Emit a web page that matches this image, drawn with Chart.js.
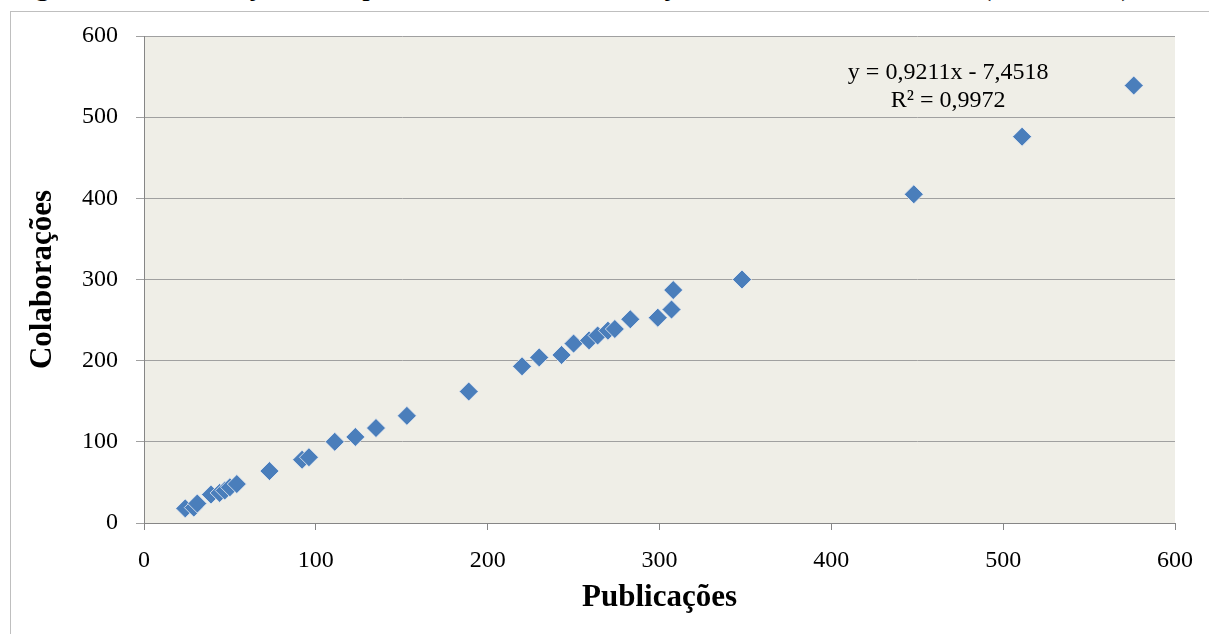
<!DOCTYPE html>
<html>
<head>
<meta charset="utf-8">
<title>Publicações x Colaborações</title>
<script src="https://cdn.jsdelivr.net/npm/chart.js@4.4.1/dist/chart.umd.min.js"></script>
<style>
    html, body { margin: 0; padding: 0; background: #fff; overflow: hidden; }
    #wrap { position: relative; width: 1209px; height: 634px; overflow: hidden; }
    #caption {
        position: absolute; left: 10px; top: -30px;
        font-family: "Liberation Serif", serif; font-size: 30px; line-height: 30px;
        white-space: nowrap; color: #000;
    }
    #frame {
        position: absolute; left: 10px; top: 11px;
        width: 1400px; height: 800px; border: 1px solid #bfbfbf;
    }
    #chart { position: absolute; left: 0; top: 0; }
</style>
</head>
<body>
<div id="wrap">
    <div id="caption">Figura 15 – Correlação entre produtividade e colaboração dos docentes do PPGI (2000-2010)</div>
    <div id="frame"></div>
    <canvas id="chart" width="1209" height="634"></canvas>
</div>
<script>
// Data (x = publicações, y = colaborações)
const publicacoes = [24, 29, 31, 39, 44, 47, 50, 54, 73, 92, 96, 111, 123, 135, 153, 189,
    220, 230, 243, 250, 259, 264, 270, 274, 283, 299, 307, 308, 348, 448, 511, 576];
const colaboracoes = [18, 19, 24, 35, 37, 40, 44, 48, 64, 78, 81, 100, 106, 117, 132, 162,
    193, 204, 207, 221, 225, 231, 237, 239, 251, 253, 263, 287, 300, 405, 476, 539];
const xTicks = [0, 100, 200, 300, 400, 500, 600];
const yTicks = [0, 100, 200, 300, 400, 500, 600];
const trendText = ['y = 0,9211x - 7,4518', 'R² = 0,9972'];

const serif = '"Liberation Serif", "Times New Roman", serif';

// Fill the plot area with the beige background
const plotBackground = {
    id: 'plotBackground',
    beforeDraw(chart) {
        const { ctx, chartArea } = chart;
        ctx.save();
        ctx.fillStyle = '#efeee7';
        ctx.fillRect(chartArea.left, chartArea.top, chartArea.right - chartArea.left, chartArea.bottom - chartArea.top);
        ctx.restore();
    }
};

// Trendline equation label, placed with the scales
const trendLabel = {
    id: 'trendLabel',
    afterDraw(chart) {
        const { ctx } = chart;
        const xs = chart.scales.x, ys = chart.scales.y;
        const cx = xs.getPixelForValue(468);
        ctx.save();
        ctx.fillStyle = '#000';
        ctx.font = '24px ' + serif;
        ctx.textAlign = 'center';
        ctx.textBaseline = 'middle';
        ctx.fillText(trendText[0], cx, ys.getPixelForValue(555));
        ctx.fillText(trendText[1], cx, ys.getPixelForValue(520));
        ctx.restore();
    }
};

const ctx = document.getElementById('chart').getContext('2d');
new Chart(ctx, {
    type: 'scatter',
    data: {
        datasets: [{
            label: 'Colaborações',
            data: publicacoes.map((x, i) => ({ x: x, y: colaboracoes[i] })),
            pointStyle: 'rectRot',
            pointRadius: 9.5,
            backgroundColor: '#4a7ebb',
            borderColor: 'rgba(235, 238, 242, 0.8)',
            borderWidth: 1
        }]
    },
    options: {
        responsive: false,
        animation: false,
        devicePixelRatio: 1,
        layout: { padding: { top: 36, right: 31, left: 0, bottom: 0 } },
        plugins: {
            legend: { display: false },
            tooltip: { enabled: false }
        },
        scales: {
            x: {
                type: 'linear',
                min: xTicks[0],
                max: xTicks[xTicks.length - 1],
                ticks: {
                    stepSize: xTicks[1] - xTicks[0],
                    color: '#000',
                    padding: 16,
                    font: { family: serif, size: 24 }
                },
                grid: { drawOnChartArea: false, tickLength: 7, color: '#868686' },
                border: { color: '#868686', width: 1 },
                title: {
                    display: true,
                    text: 'Publicações',
                    color: '#000',
                    font: { family: serif, size: 31, weight: 'bold' },
                    padding: { top: 0, bottom: 17 }
                },
                afterFit(scale) { scale.height = 111; }
            },
            y: {
                type: 'linear',
                min: yTicks[0],
                max: yTicks[yTicks.length - 1],
                ticks: {
                    stepSize: yTicks[1] - yTicks[0],
                    color: '#000',
                    padding: 18,
                    font: { family: serif, size: 24 }
                },
                grid: { tickLength: 8, color: '#a0a0a0' },
                border: { color: '#868686', width: 1 },
                title: {
                    display: true,
                    text: 'Colaborações',
                    color: '#000',
                    font: { family: serif, size: 31, weight: 'bold' },
                    padding: { top: 24, bottom: 0 }
                },
                afterFit(scale) { scale.width = 144; }
            }
        }
    },
    plugins: [plotBackground, trendLabel]
});
</script>
</body>
</html>
